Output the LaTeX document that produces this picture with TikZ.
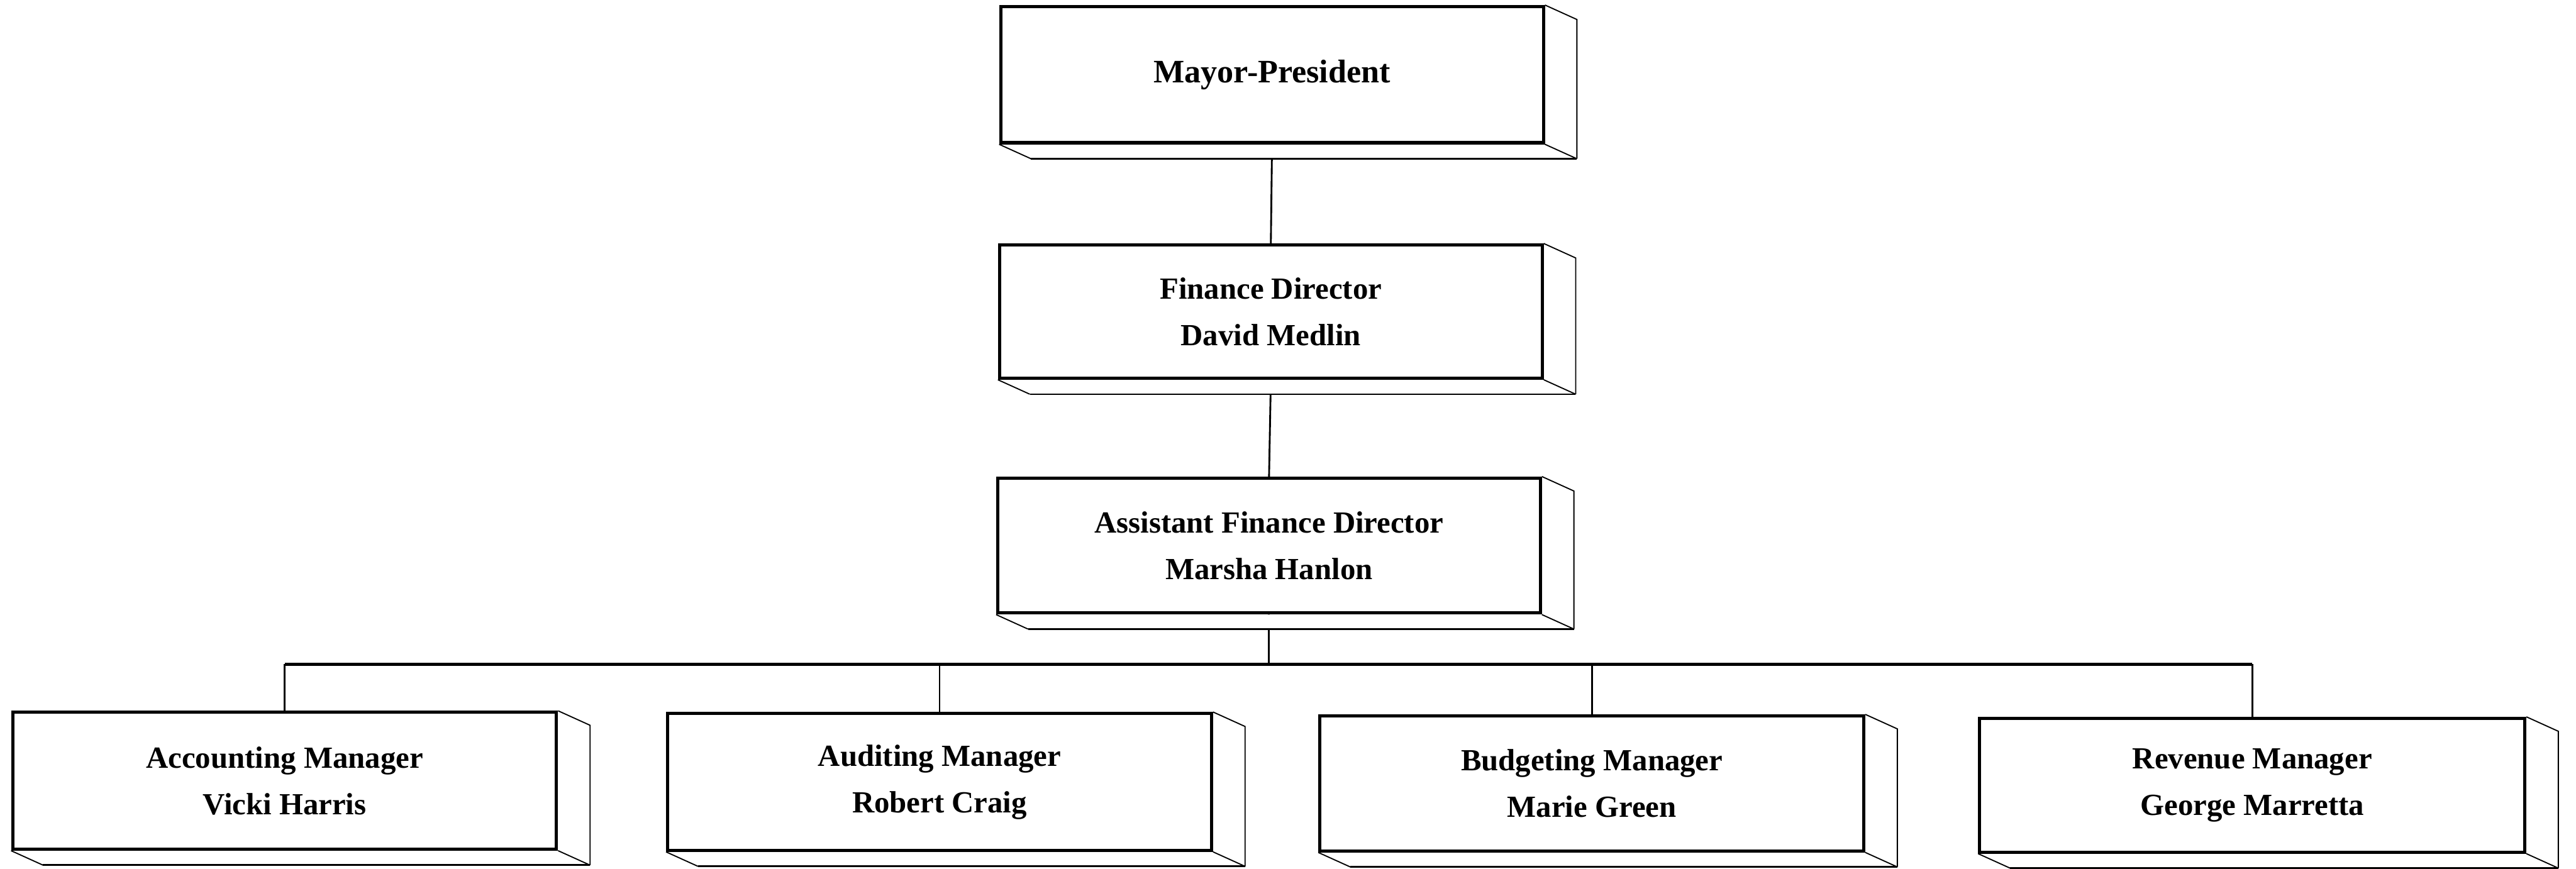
\documentclass[tikz,border=0pt]{standalone}
\usepackage{fontspec}
\newfontfamily\orgfont{Liberation Serif}
\usetikzlibrary{calc}
\pgfdeclarelayer{bg}
\pgfdeclarelayer{mid}
\pgfsetlayers{bg,mid,main}
\tikzset{
  face/.style={draw=black, line width=1.5pt, fill=white, rectangle, inner sep=0pt, align=center,
    font=\orgfont\bfseries\fontsize{14.5}{22}\selectfont},
  topface/.style={face, font=\orgfont\bfseries\fontsize{15.5}{22}\selectfont},
  depthline/.style={draw=black, line width=0.55pt, line join=miter},
  depthbase/.style={draw=black, line width=0.85pt},
  link/.style={draw=black, line width=0.85pt},
  busline/.style={draw=black, line width=1.5pt},
}
\newcommand\extrude[1]{%
  \begin{pgfonlayer}{mid}
    \fill[white] (#1.north east) -- ++(0.53,-0.24) -- ($(#1.south east)+(0.53,-0.24)$)
      -- ($(#1.south west)+(0.53,-0.24)$) -- (#1.south west) -- (#1.south east) -- cycle;
    \draw[depthline] (#1.north east) -- ++(0.53,-0.24) -- ($(#1.south east)+(0.53,-0.24)$);
    \draw[depthline] (#1.south west) -- ++(0.53,-0.24);
    \draw[depthline] (#1.south east) -- ++(0.53,-0.24);
    \draw[depthbase] ($(#1.south west)+(0.53,-0.24)$) -- ($(#1.south east)+(0.53,-0.24)$);
  \end{pgfonlayer}
}
\begin{document}
\begin{tikzpicture}
\useasboundingbox (0,0) rectangle (42.77,-14.43);

\node[topface, minimum width=9.01cm, minimum height=2.26cm] (mayor) at (21.12,-1.24) {Mayor-President};
\node[face, minimum width=9.01cm, minimum height=2.21cm] (fin) at (21.10,-5.175) {Finance Director\\David Medlin};
\node[face, minimum width=9.01cm, minimum height=2.24cm] (afd) at (21.07,-9.06) {Assistant Finance Director\\Marsha Hanlon};
\node[face, minimum width=9.03cm, minimum height=2.27cm] (acc) at (4.725,-12.965) {Accounting Manager\\Vicki Harris};
\node[face, minimum width=9.03cm, minimum height=2.27cm] (aud) at (15.60,-12.985) {Auditing Manager\\Robert Craig};
\node[face, minimum width=9.03cm, minimum height=2.24cm] (bud) at (26.43,-13.01) {Budgeting Manager\\Marie Green};
\node[face, minimum width=9.05cm, minimum height=2.22cm] (rev) at (37.395,-13.04) {Revenue Manager\\George Marretta};

\foreach \n in {mayor,fin,afd,acc,aud,bud,rev} {\extrude{\n}}

\coordinate (busy) at (0,-11.03);
\begin{pgfonlayer}{bg}
  \draw[link] (mayor.south) -- (fin.north);
  \draw[link] (fin.south) -- (afd.north);
  \draw[link] (afd.south) -- (afd.south |- busy);
  \draw[busline] (acc.north |- busy) -- (rev.north |- busy);
  \foreach \n in {acc,aud,bud,rev} {\draw[link] (\n.north |- busy) -- (\n.north);}
\end{pgfonlayer}
\end{tikzpicture}
\end{document}
